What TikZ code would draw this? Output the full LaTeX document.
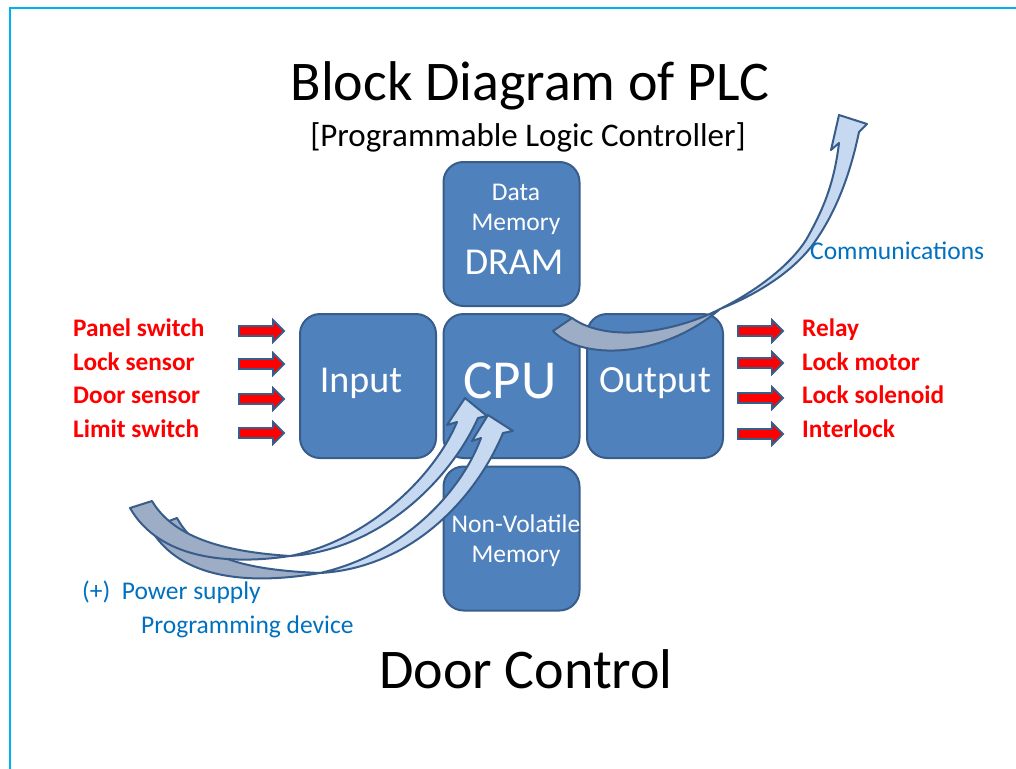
\documentclass[tikz,border=0pt]{standalone}
\usepackage{fontspec}
\setmainfont{Carlito}
\definecolor{boxfill}{HTML}{4F81BD}
\definecolor{boxline}{HTML}{385D8A}
\definecolor{framecol}{HTML}{00B0F0}
\definecolor{darkband}{HTML}{9DADC6}
\definecolor{lightband}{HTML}{C6D9F1}
\definecolor{bluetext}{HTML}{0070C0}
\newcommand{\fs}[1]{\fontsize{#1}{#1}\selectfont}
\newcommand{\smallarr}[2]{%
  \path[fill=red, draw=boxline, line width=1.8pt, line join=miter]
    (#1,#2-5) -- (#1+34,#2-5) -- (#1+34,#2-11) -- (#1+45,#2) -- (#1+34,#2+11)
    -- (#1+34,#2+5) -- (#1,#2+5) -- cycle;}
\begin{document}
\begin{tikzpicture}[x=1pt,y=-1pt,
  block/.style={draw=boxline, fill=boxfill, line width=2pt, rounded corners=20pt,
    minimum width=136pt, minimum height=144pt, inner sep=0pt},
  wtext/.style={text=white, inner sep=0pt, anchor=base},
  redlab/.style={text=red, font=\fs{25.3}\bfseries, inner sep=0pt, anchor=base west},
  bluelab/.style={text=bluetext, font=\fs{25.5}, inner sep=0pt, anchor=base west},
  band/.style={draw=boxline, line width=2pt, line join=round},
]
\useasboundingbox (0,0) rectangle (1016,768);
\draw[framecol, line width=2pt] (1017,8) -- (10,8) -- (10,769);

% titles
\node[inner sep=0pt, anchor=base, font=\fs{56}] (title) at (530,100) {Block Diagram of PLC};
\node[inner sep=0pt, anchor=base, font=\fs{33}] (subtitle) at (528,146) {[Programmable Logic Controller]};
\node[inner sep=0pt, anchor=base, font=\fs{56}] (door) at (526,688) {Door Control};

% blocks
\node[block] (dram) at (511.5,234) {};
\node[block] (input) at (368,386) {};
\node[block] (cpu) at (511.5,386) {};
\node[block] (output) at (655,386) {};
\node[block] (nvm) at (511.5,538.5) {};

\node[wtext, font=\fs{25.5}] (t-data) at (516,200) {Data};
\node[wtext, font=\fs{25.5}] (t-mem1) at (516,230) {Memory};
\node[wtext, font=\fs{38}] (t-dram) at (514,274) {DRAM};
\node[wtext, font=\fs{38}] (t-input) at (361,392) {Input};
\node[wtext, font=\fs{55}] (t-cpu) at (510,398) {CPU};
\node[wtext, font=\fs{38.5}] (t-output) at (655,392) {Output};
\node[wtext, font=\fs{25.5}] (t-nv) at (516,532) {Non-Volatile};
\node[wtext, font=\fs{25.5}] (t-mem2) at (516,562) {Memory};

% input labels and arrows
\node[redlab] (l1) at (73,336) {Panel switch};
\node[redlab] (l2) at (73,370) {Lock sensor};
\node[redlab] (l3) at (73,403) {Door sensor};
\node[redlab] (l4) at (73,437) {Limit switch};
\smallarr{239}{331}
\smallarr{239}{364}
\smallarr{239}{399}
\smallarr{239}{433}

% output labels and arrows
\node[redlab] (r1) at (802,336) {Relay};
\node[redlab] (r2) at (802,370) {Lock motor};
\node[redlab] (r3) at (802,403) {Lock solenoid};
\node[redlab] (r4) at (802,437) {Interlock};
\smallarr{738}{331}
\smallarr{738}{363}
\smallarr{738}{398}
\smallarr{738}{434}

% communications curved arrow
\path[band, fill=darkband] (553,331) .. controls (580,360) and (660,360) .. (720,309)
  .. controls (680,330) and (610,345) .. (572,318) -- cycle;
\path[band, fill=lightband] (720,309) .. controls (758,290) and (790,265) .. (806,240)
  .. controls (822,212) and (834,185) .. (839,143) -- (831,150) -- (839,115) -- (867,124)
  -- (859,132) .. controls (850,175) and (836,212) .. (814,243)
  .. controls (796,268) and (763,292) .. (720,309) -- cycle;
\node[bluelab] (comm) at (810,259) {Communications};

% programming device arrow (behind)
\path[band, fill=darkband] (150,528) .. controls (180,580) and (250,585) .. (320,573)
  .. controls (250,570) and (200,560) .. (177,518) -- cycle;
\path[band, fill=lightband] (320,573) .. controls (410,568) and (475,500) .. (503,433)
  -- (513,431) -- (488,415) -- (472,441) -- (481,438)
  .. controls (460,495) and (400,555) .. (320,573) -- cycle;
% power supply arrow (front)
\path[band, fill=darkband] (130,508) .. controls (160,560) and (230,565) .. (290,556)
  .. controls (230,552) and (175,540) .. (152,501) -- cycle;
\path[band, fill=lightband] (290,556) .. controls (380,550) and (450,480) .. (478,418)
  -- (487,416) -- (465,398) -- (447,425) -- (457,422)
  .. controls (435,475) and (370,540) .. (290,556) -- cycle;

\node[bluelab] (ps) at (82,599) {(+)\ \ Power supply};
\node[bluelab] (pd) at (141,633) {Programming device};
\end{tikzpicture}
\end{document}
